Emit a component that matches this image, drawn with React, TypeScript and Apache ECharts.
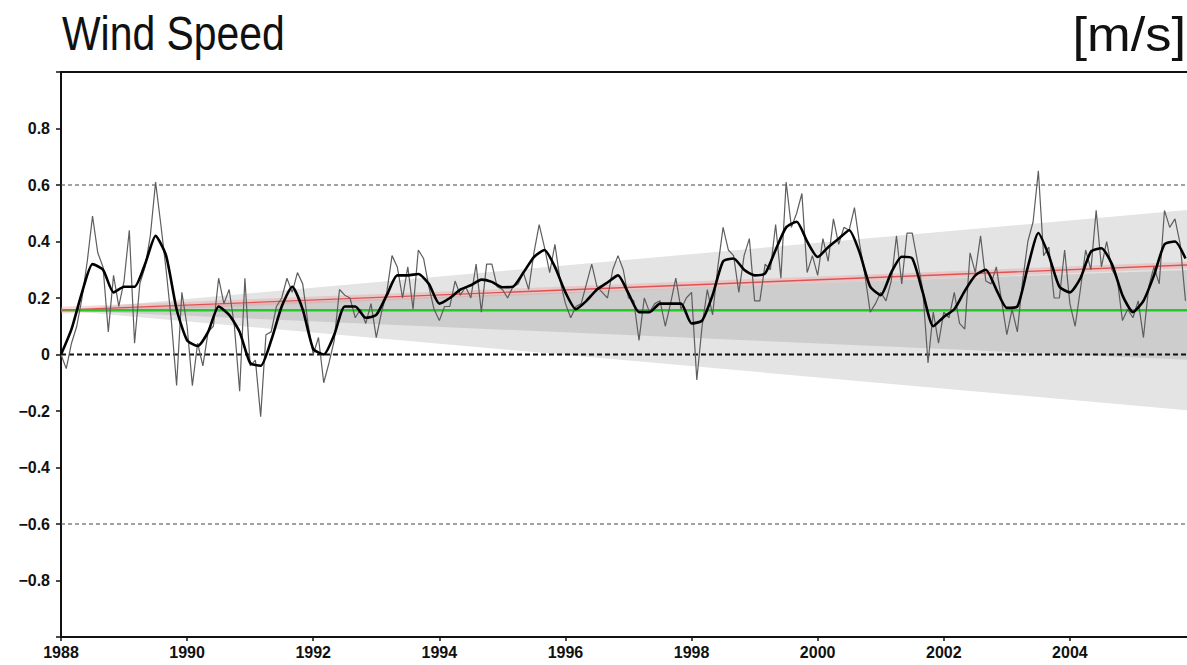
import React, { useEffect, useRef } from "react";
import * as echarts from "echarts";

// Monthly wind-speed anomaly [m/s], Jan 1988 onwards (one row per year)
const monthlyAnomaly = [
  0.0, -0.05, 0.04, 0.1, 0.2, 0.33, 0.49, 0.36, 0.31, 0.08, 0.28, 0.17,
  0.26, 0.44, 0.04, 0.25, 0.31, 0.42, 0.61, 0.46, 0.3, 0.12, -0.11, 0.22,
  0.1, -0.11, 0.04, -0.04, 0.08, 0.1, 0.27, 0.18, 0.23, 0.1, -0.13, 0.27,
  -0.04, -0.02, -0.22, 0.07, 0.08, 0.17, 0.2, 0.27, 0.22, 0.29, 0.25, 0.11,
  0.0, 0.06, -0.1, -0.03, 0.05, 0.23, 0.21, 0.2, 0.13, 0.16, 0.11, 0.18,
  0.06, 0.15, 0.22, 0.35, 0.31, 0.2, 0.31, 0.16, 0.37, 0.34, 0.24, 0.16,
  0.12, 0.17, 0.17, 0.26, 0.21, 0.24, 0.2, 0.32, 0.15, 0.32, 0.32, 0.24,
  0.23, 0.2, 0.24, 0.25, 0.29, 0.23, 0.36, 0.46, 0.38, 0.29, 0.39, 0.26,
  0.18, 0.13, 0.17, 0.18, 0.25, 0.32, 0.24, 0.22, 0.2, 0.3, 0.35, 0.3,
  0.2, 0.19, 0.05, 0.2, 0.15, 0.18, 0.19, 0.1, 0.18, 0.27, 0.16, 0.2,
  0.22, -0.09, 0.1, 0.23, 0.14, 0.31, 0.45, 0.37, 0.35, 0.22, 0.35, 0.41,
  0.19, 0.19, 0.32, 0.3, 0.46, 0.27, 0.61, 0.45, 0.5, 0.57, 0.29, 0.35,
  0.28, 0.41, 0.33, 0.48, 0.39, 0.45, 0.44, 0.52, 0.39, 0.28, 0.15, 0.18,
  0.22, 0.19, 0.26, 0.42, 0.25, 0.43, 0.43, 0.33, 0.23, -0.03, 0.15, 0.04,
  0.15, 0.13, 0.22, 0.11, 0.09, 0.36, 0.29, 0.42, 0.26, 0.25, 0.31, 0.19,
  0.07, 0.16, 0.08, 0.26, 0.4, 0.47, 0.65, 0.35, 0.38, 0.2, 0.2, 0.37,
  0.18, 0.1, 0.23, 0.37, 0.3, 0.51, 0.31, 0.4, 0.3, 0.27, 0.12, 0.16,
  0.13, 0.19, 0.06, 0.24, 0.31, 0.25, 0.51, 0.45, 0.48, 0.39, 0.19,
];

// Smoothed anomaly, sampled every second month from Jan 1988
const smoothedAnomaly = [
  0.0, 0.09, 0.22, 0.32, 0.3, 0.22, 0.24, 0.24, 0.32, 0.42, 0.35, 0.16,
  0.05, 0.03, 0.08, 0.17, 0.14, 0.08, -0.03, -0.04, 0.05, 0.17, 0.24, 0.16,
  0.02, 0.0, 0.07, 0.17, 0.17, 0.13, 0.14, 0.21, 0.28, 0.28, 0.285, 0.25,
  0.18, 0.2, 0.23, 0.245, 0.265, 0.257, 0.238, 0.24, 0.29, 0.345, 0.37, 0.31,
  0.22, 0.16, 0.19, 0.23, 0.255, 0.28, 0.216, 0.15, 0.15, 0.18, 0.18, 0.18,
  0.11, 0.12, 0.21, 0.33, 0.34, 0.3, 0.28, 0.287, 0.37, 0.45, 0.47, 0.4,
  0.345, 0.38, 0.41, 0.44, 0.36, 0.24, 0.21, 0.29, 0.346, 0.34, 0.22, 0.1,
  0.133, 0.16, 0.225, 0.28, 0.3, 0.23, 0.165, 0.17, 0.31, 0.43, 0.35, 0.24,
  0.22, 0.27, 0.364, 0.376, 0.32, 0.21, 0.15, 0.19, 0.28, 0.39, 0.4, 0.34,
];

const FIRST_YEAR = 1988;
const LAST_YEAR = 2006;

// Long-term mean and linear trend end value
const meanLevel = 0.157;
const trendEndLevel = 0.318;

// Spread of the trend cones at the last year: [lower, upper]
const outerSpreadEnd = [-0.2, 0.514];
const innerSpreadEnd = [-0.02, 0.3];
const trendHalo = 0.012;

// Dashed reference levels
const referenceLevels = [0.6, 0, -0.6];

const toYear = (monthIndex: number) => FIRST_YEAR + monthIndex / 12;

function polygonSeries(name: string, vertices: number[][], fill: string) {
  const flat = vertices.reduce((acc: number[], v) => acc.concat(v), []);
  return {
    type: "custom",
    name,
    silent: true,
    data: [flat],
    encode: {
      x: vertices.map((_, k) => 2 * k),
      y: vertices.map((_, k) => 2 * k + 1),
    },
    renderItem: (_params: any, api: any) => ({
      type: "polygon",
      shape: {
        points: vertices.map((_, k) =>
          api.coord([api.value(2 * k), api.value(2 * k + 1)])
        ),
      },
      style: { fill },
    }),
  };
}

const labelFont = {
  fontFamily: "Liberation Sans, Arial, sans-serif",
  fontSize: 16,
  fontWeight: "bold" as const,
  color: "#111",
};

export default function App() {
  const ref = useRef<HTMLDivElement>(null);

  useEffect(() => {
    if (!ref.current) return;
    const chart = echarts.init(ref.current, undefined, { renderer: "svg" });

    const refLineSeries = referenceLevels.map((lvl) => ({
      type: "line",
      name: `ref ${lvl}`,
      silent: true,
      symbol: "none",
      data: [
        [FIRST_YEAR, lvl],
        [LAST_YEAR, lvl],
      ],
      lineStyle:
        lvl === 0
          ? { color: "#111", width: 2, type: [5, 3] }
          : { color: "#444", width: 1, type: [4, 3] },
    }));

    chart.setOption({
      animation: false,
      backgroundColor: "#fff",
      grid: {
        left: 61,
        top: 72,
        width: 1135,
        height: 565,
        show: true,
        borderColor: "#111",
        borderWidth: 2,
      },
      xAxis: {
        type: "value",
        min: FIRST_YEAR,
        max: LAST_YEAR,
        interval: 2,
        axisLine: { show: true, onZero: false, lineStyle: { color: "#111", width: 2 } },
        axisTick: { show: true, length: 4, lineStyle: { color: "#111", width: 1.5 } },
        axisLabel: {
          ...labelFont,
          margin: 7,
          formatter: (v: number) => (v >= LAST_YEAR ? "" : String(v)),
        },
        splitLine: { show: false },
      },
      yAxis: {
        type: "value",
        min: -1,
        max: 1,
        interval: 0.2,
        axisLine: { show: true, onZero: false, lineStyle: { color: "#111", width: 2 } },
        axisTick: { show: true, length: 5, lineStyle: { color: "#111", width: 1.5 } },
        axisLabel: {
          ...labelFont,
          margin: 11,
          formatter: (v: number) => {
            if (Math.abs(Math.abs(v) - 1) < 1e-6) return "";
            if (Math.abs(v) < 1e-6) return "0";
            return (v < 0 ? "\u2212" : "") + Math.abs(v).toFixed(1);
          },
        },
        splitLine: { show: false },
      },
      graphic: [
        {
          type: "text",
          x: 62,
          y: 33,
          scaleX: 0.835,
          style: {
            text: "Wind Speed",
            fontFamily: "Liberation Sans, Arial, sans-serif",
            fontSize: 49,
            fill: "#111",
            align: "left",
            verticalAlign: "middle",
          },
        },
        {
          type: "text",
          x: 1186,
          y: 34,
          scaleX: 1.07,
          style: {
            text: "[m/s]",
            fontFamily: "Liberation Sans, Arial, sans-serif",
            fontSize: 49,
            fill: "#111",
            align: "right",
            verticalAlign: "middle",
          },
        },
      ],
      series: [
        polygonSeries(
          "outer spread",
          [
            [FIRST_YEAR, meanLevel],
            [LAST_YEAR, outerSpreadEnd[1]],
            [LAST_YEAR, outerSpreadEnd[0]],
          ],
          "#e4e4e4"
        ),
        polygonSeries(
          "inner spread",
          [
            [FIRST_YEAR, meanLevel],
            [LAST_YEAR, innerSpreadEnd[1]],
            [LAST_YEAR, innerSpreadEnd[0]],
          ],
          "#cdcdcd"
        ),
        polygonSeries(
          "trend halo",
          [
            [FIRST_YEAR, meanLevel - trendHalo],
            [LAST_YEAR, trendEndLevel - trendHalo],
            [LAST_YEAR, trendEndLevel + trendHalo],
            [FIRST_YEAR, meanLevel + trendHalo],
          ],
          "rgba(235,150,150,0.35)"
        ),
        ...refLineSeries,
        {
          type: "line",
          name: "mean",
          silent: true,
          symbol: "none",
          data: [
            [FIRST_YEAR, meanLevel],
            [LAST_YEAR, meanLevel],
          ],
          lineStyle: { color: "#22cc22", width: 2.5 },
        },
        {
          type: "line",
          name: "trend",
          silent: true,
          symbol: "none",
          data: [
            [FIRST_YEAR, meanLevel],
            [LAST_YEAR, trendEndLevel],
          ],
          lineStyle: { color: "#e05252", width: 1.4 },
        },
        {
          type: "line",
          name: "monthly",
          silent: true,
          symbol: "none",
          data: monthlyAnomaly.map((v, i) => [toYear(i), v]),
          lineStyle: { color: "#5e5e5e", width: 1.2 },
        },
        {
          type: "line",
          name: "smoothed",
          silent: true,
          symbol: "none",
          smooth: 0.2,
          data: smoothedAnomaly.map((v, i) => [toYear(2 * i), v]),
          lineStyle: { color: "#000", width: 2.6 },
        },
      ],
    });

    return () => chart.dispose();
  }, []);

  return (
    <div
      style={{
        position: "absolute",
        left: 0,
        top: 0,
        width: 1187,
        height: 665,
        overflow: "hidden",
        background: "#fff",
      }}
    >
      <div ref={ref} style={{ width: 1210, height: 665 }} />
    </div>
  );
}
